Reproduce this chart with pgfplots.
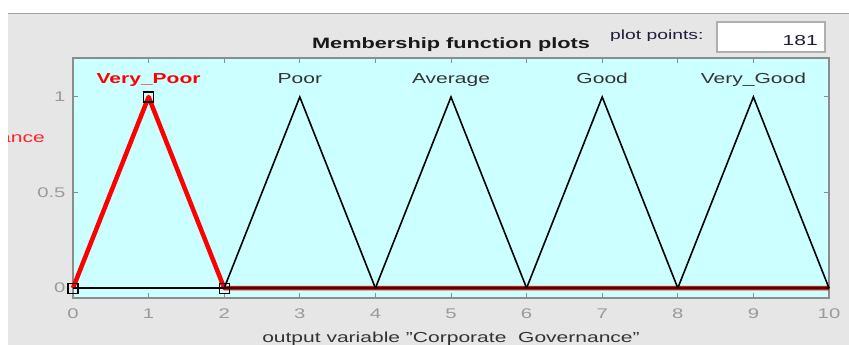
\documentclass[border=0pt]{standalone}
\usepackage{fontspec}
\setmainfont{Liberation Sans}[FakeStretch=1.45]
\usepackage{pgfplots}
\pgfplotsset{compat=1.18}
\definecolor{figbg}{HTML}{E6E6E6}
\definecolor{axbg}{HTML}{CCFFFF}
\definecolor{frame}{HTML}{8C8C8C}
\definecolor{ticklab}{HTML}{9A9A9A}
\definecolor{mfred}{HTML}{FF0000}
\definecolor{navy}{HTML}{1E1E3C}

\begin{document}
\begin{tikzpicture}
\path[use as bounding box] (0,0) rectangle (849bp,345bp);
\clip (0,0) rectangle (849bp,345bp);
% window background
\fill[figbg] (0,0) rectangle (849bp,345bp);
\fill[white] (0,332bp) rectangle (849bp,345bp);
\fill[white] (0,0) rectangle (8bp,345bp);
\draw[color=frame!80, line width=1.2bp] (8bp,331.5bp) -- (849bp,331.5bp);

\begin{axis}[
    at={(73bp,47bp)}, anchor=south west,
    scale only axis, width=756bp, height=240bp,
    xmin=0, xmax=10, ymin=-0.052, ymax=1.204,
    axis background/.style={fill=axbg},
    axis line style={color=frame, line width=1.2bp},
    xtick={0,1,...,10}, ytick={0,0.5,1},
    tick pos=both, xticklabel pos=bottom, yticklabel pos=left,
    tick align=inside, major tick length=5bp,
    tick style={color=frame, line width=1bp},
    /pgf/number format/assume math mode=true,
    ticklabel style={font=\fontsize{14bp}{16bp}\selectfont, color=ticklab},
    xticklabel style={yshift=-7bp},
    yticklabel style={xshift=-4bp},
    clip=false,
]
% selected MF
\addplot[color=mfred, line width=4.5bp, line join=round] coordinates {
    (0,0)(1,1)(2,0)(10,0)
};
% other MFs
\addplot[color=black, line width=1.6bp] coordinates {(0,0)(2,0)(3,1)(4,0)(10,0)};
\addplot[color=black, line width=1.6bp] coordinates {(0,0)(4,0)(5,1)(6,0)(10,0)};
\addplot[color=black, line width=1.6bp] coordinates {(0,0)(6,0)(7,1)(8,0)(10,0)};
\addplot[color=black, line width=1.6bp] coordinates {(0,0)(8,0)(9,1)(10,0)};
% control points
\addplot[only marks, mark=square, mark size=5bp, mark options={draw=black, line width=1.1bp, fill=none}]
    coordinates {(0,0)(1,1)(2,0)};

\node[anchor=base, text=mfred, font=\fontsize{14.5bp}{17bp}\selectfont\bfseries] at (axis cs:1,1.073) {Very\_Poor};
\node[anchor=base, text=black!80, font=\fontsize{14.5bp}{17bp}\selectfont] at (axis cs:3,1.073) {Poor};
\node[anchor=base, text=black!80, font=\fontsize{14.5bp}{17bp}\selectfont] at (axis cs:5,1.073) {Average};
\node[anchor=base, text=black!80, font=\fontsize{14.5bp}{17bp}\selectfont] at (axis cs:7,1.073) {Good};
\node[anchor=base, text=black!80, font=\fontsize{14.5bp}{17bp}\selectfont] at (axis cs:9,1.073) {Very\_Good};
\end{axis}

% title
\node[anchor=base, text=black!90, font=\fontsize{15bp}{18bp}\selectfont\bfseries] at (451bp,296bp) {Membership function plots};
% x label
\node[anchor=base, text=black!80, font=\fontsize{14.5bp}{17bp}\selectfont] at (451bp,3bp) {output variable \symbol{34}Corporate\ \ Governance\symbol{34}};
% variable name, cut off at the window edge as in the screenshot
\begin{scope}
\clip (8bp,0) rectangle (849bp,345bp);
\node[anchor=base east, inner sep=0pt, text=mfred!85, font=\fontsize{14.5bp}{17bp}\selectfont] at (45bp,202bp) {Corporate Governance};
\end{scope}
% plot points box
\begin{scope}
\clip (600bp,304bp) rectangle (715bp,330bp);
\node[anchor=base west, inner sep=0pt, text=navy, font=\fontsize{13.3bp}{16bp}\selectfont] at (610bp,305bp) {plot points:};
\end{scope}
\draw[fill=white, draw=frame!70, line width=1.2bp] (717bp,293bp) rectangle (825bp,323bp);
\node[anchor=base east, inner sep=0pt, text=navy, font=\fontsize{14.5bp}{17bp}\selectfont] at (818bp,299bp) {181};
\end{tikzpicture}
\end{document}
